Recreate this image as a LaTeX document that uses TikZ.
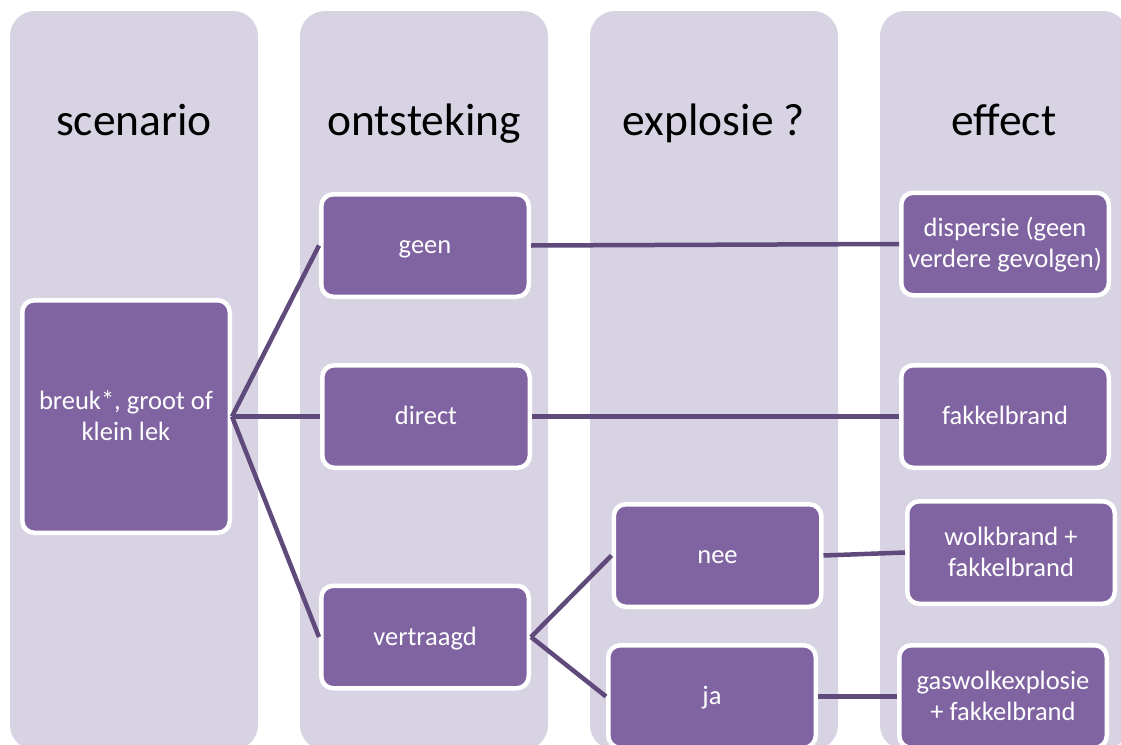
\documentclass[tikz,border=0pt]{standalone}
\usepackage{fontspec}
\setmainfont{Carlito}
\definecolor{colbg}{RGB}{216,211,227}
\definecolor{boxfill}{RGB}{128,100,162}
\definecolor{linec}{RGB}{96,74,123}
\newcommand{\bstrut}{\rule[-7pt]{0pt}{30pt}}
\begin{document}
\begin{tikzpicture}[x=1pt,y=-1pt,
  column/.style={fill=colbg, rounded corners=25pt},
  box/.style={draw=white, line width=4.5pt, fill=boxfill, rounded corners=12pt,
    minimum width=207.5pt, minimum height=102.5pt, text=white,
    font=\fontsize{26.5}{28}\selectfont, align=center, inner sep=0pt},
  head/.style={font=\fontsize{45.5}{52}\selectfont, anchor=base},
  conn/.style={draw=linec, line width=4.5pt}]
\useasboundingbox (0,0) rectangle (1121,744);
\clip (0,0) rectangle (1121,744);
% columns
\fill[column] (10,11) rectangle (258,750);
\fill[column] (300,11) rectangle (548,750);
\fill[column] (590,11) rectangle (838,750);
\fill[column] (880,11) rectangle (1128,750);
% headers
\node[head] (h1) at (134,135) {scenario};
\node[head] (h2) at (424,135) {ontsteking};
\node[head] (h3) at (714,135) {explosie ?};
\node[head] (h4) at (1004,135) {effect};
% boxes
\node[box, minimum height=232.5pt] (breuk) at (126,416.5) {\bstrut breuk*, groot of\\klein lek\bstrut};
\node[box] (geen) at (425,245.5) {\bstrut geen\bstrut};
\node[box] (direct) at (426,416.5) {\bstrut direct\bstrut};
\node[box] (vertraagd) at (425,637) {\bstrut vertraagd\bstrut};
\node[box] (nee) at (717.5,555.5) {\bstrut nee\bstrut};
\node[box] (ja) at (712,696.5) {\bstrut ja\bstrut};
\node[box] (disp) at (1005,244) {\bstrut dispersie (geen\\verdere gevolgen)\bstrut};
\node[box] (fakkel) at (1005,416.5) {\bstrut fakkelbrand\bstrut};
\node[box] (wolk) at (1011,552.5) {\bstrut wolkbrand +\\fakkelbrand\bstrut};
\node[box] (gas) at (1003,696.5) {\bstrut gaswolkexplosie\\+ fakkelbrand\bstrut};
% connectors
\draw[conn] (breuk.east) -- (geen.west);
\draw[conn] (breuk.east) -- (direct.west);
\draw[conn] (breuk.east) -- (vertraagd.west);
\draw[conn] (geen.east) -- (disp.west);
\draw[conn] (direct.east) -- (fakkel.west);
\draw[conn] (vertraagd.east) -- (nee.west);
\draw[conn] (vertraagd.east) -- (ja.west);
\draw[conn] (nee.east) -- (wolk.west);
\draw[conn] (ja.east) -- (gas.west);
\end{tikzpicture}
\end{document}
